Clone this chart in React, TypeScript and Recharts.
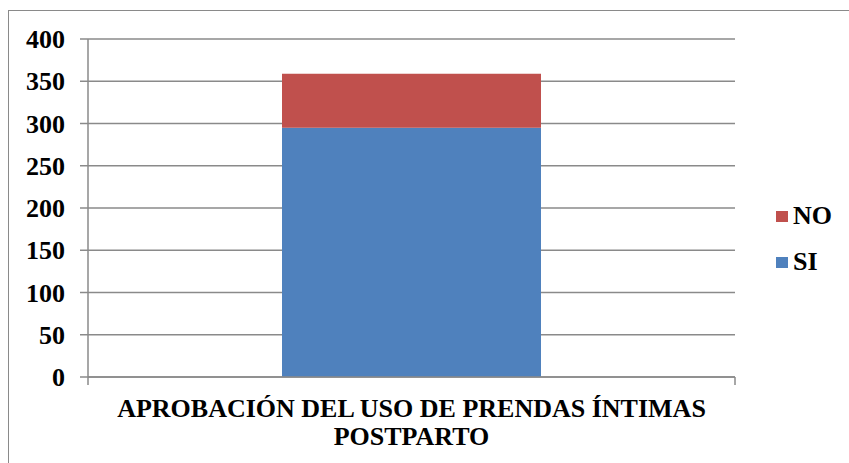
import { BarChart, Bar, XAxis, YAxis, CartesianGrid } from 'recharts'

const categories = ['APROBACIÓN DEL USO DE PRENDAS ÍNTIMAS|POSTPARTO']
const siValues = [295]
const noValues = [64]
const yTicks = [0, 50, 100, 150, 200, 250, 300, 350, 400]

const series = [
  { key: 'NO', color: '#C0504D' },
  { key: 'SI', color: '#4F81BD' },
]

const data = categories.map((c, i) => ({ name: c, SI: siValues[i], NO: noValues[i] }))

const FONT = '"Times New Roman", "Liberation Serif", Tinos, serif'
const GRID = '#8a8a8a'

function CategoryTick(props: any) {
  const { x, y, payload } = props
  const half = payload && payload.offset ? payload.offset : 323.5
  const lines = String(payload.value).split('|')
  return (
    <g>
      <line x1={x - half} x2={x - half} y1={y - 8} y2={y} stroke={GRID} strokeWidth={1.5} />
      <line x1={x + half} x2={x + half} y1={y - 8} y2={y} stroke={GRID} strokeWidth={1.5} />
      {lines.map((l, i) => (
        <text key={i} x={x} y={y + 32 + i * 28} textAnchor="middle" fontFamily={FONT} fontWeight="bold" fontSize={26} fill="#000">
          {l}
        </text>
      ))}
    </g>
  )
}

function NumTick(props: any) {
  const { x, y, payload } = props
  return (
    <text x={x} y={y} dy={9} textAnchor="end" fontFamily={FONT} fontWeight="bold" fontSize={26} fill="#000">
      {payload.value}
    </text>
  )
}

function LegendBox() {
  return (
    <div style={{ position: 'absolute', left: 776, top: 193, fontFamily: FONT, fontWeight: 'bold', fontSize: 26, color: '#000' }}>
      {series.map(s => (
        <div key={s.key} style={{ display: 'flex', alignItems: 'center', height: 46 }}>
          <span style={{ width: 12, height: 11, background: s.color, display: 'inline-block', marginRight: 5 }} />
          <span>{s.key}</span>
        </div>
      ))}
    </div>
  )
}

export default function App() {
  return (
    <div style={{ position: 'absolute', left: 0, top: 0, width: 849, height: 463, background: '#fff', overflow: 'hidden', fontFamily: FONT }}>
      <div style={{ position: 'absolute', left: 8, top: 10, width: 900, height: 500, borderLeft: `1.5px solid ${GRID}`, borderTop: `1.5px solid ${GRID}` }} />
      <div style={{ position: 'absolute', left: 0, top: 0 }}>
        <BarChart width={849} height={463} data={data} margin={{ top: 39, right: 114, bottom: 0, left: 0 }}>
          <CartesianGrid vertical={false} stroke={GRID} strokeWidth={1.5} />
          <XAxis
            dataKey="name"
            height={86}
            tick={<CategoryTick />}
            tickLine={false}
            tickSize={0}
            tickMargin={8}
            axisLine={{ stroke: GRID, strokeWidth: 1.5 }}
            interval={0}
          />
          <YAxis
            width={88}
            domain={[0, 400]}
            ticks={yTicks}
            interval={0}
            tickSize={8}
            tickMargin={15}
            tickLine={{ stroke: GRID, strokeWidth: 1.5 }}
            axisLine={{ stroke: GRID, strokeWidth: 1.5 }}
            tick={<NumTick />}
          />
          <Bar dataKey="SI" stackId="a" fill="#4F81BD" barSize={259} isAnimationActive={false} />
          <Bar dataKey="NO" stackId="a" fill="#C0504D" barSize={259} isAnimationActive={false} />
        </BarChart>
      </div>
      <LegendBox />
    </div>
  )
}
